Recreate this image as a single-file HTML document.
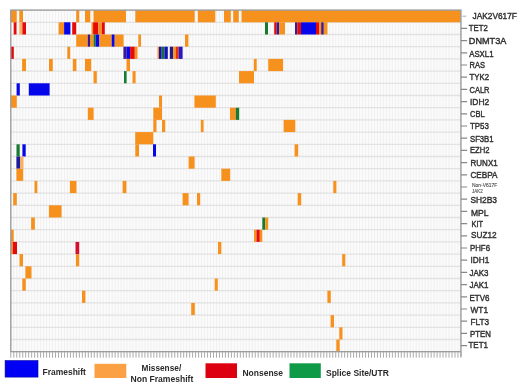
<!DOCTYPE html><html><head><meta charset="utf-8"><style>html,body{margin:0;padding:0;background:#fff;width:520px;height:390px;overflow:hidden}svg{display:block;filter:blur(0.5px)}text{font-family:"Liberation Sans",sans-serif}</style></head><body>
<svg width="520" height="390" viewBox="0 0 520 390">
<rect x="0" y="0" width="520" height="390" fill="#fff"/>
<rect x="10.8" y="10.1" width="450.13" height="341.60" fill="#fbfbfb"/>
<path d="M13.78 10.1V351.70M16.76 10.1V351.70M19.74 10.1V351.70M22.72 10.1V351.70M25.70 10.1V351.70M28.69 10.1V351.70M31.67 10.1V351.70M34.65 10.1V351.70M37.63 10.1V351.70M40.61 10.1V351.70M43.59 10.1V351.70M46.57 10.1V351.70M49.55 10.1V351.70M52.53 10.1V351.70M55.52 10.1V351.70M58.50 10.1V351.70M61.48 10.1V351.70M64.46 10.1V351.70M67.44 10.1V351.70M70.42 10.1V351.70M73.40 10.1V351.70M76.38 10.1V351.70M79.36 10.1V351.70M82.34 10.1V351.70M85.32 10.1V351.70M88.31 10.1V351.70M91.29 10.1V351.70M94.27 10.1V351.70M97.25 10.1V351.70M100.23 10.1V351.70M103.21 10.1V351.70M106.19 10.1V351.70M109.17 10.1V351.70M112.15 10.1V351.70M115.13 10.1V351.70M118.12 10.1V351.70M121.10 10.1V351.70M124.08 10.1V351.70M127.06 10.1V351.70M130.04 10.1V351.70M133.02 10.1V351.70M136.00 10.1V351.70M138.98 10.1V351.70M141.96 10.1V351.70M144.94 10.1V351.70M147.93 10.1V351.70M150.91 10.1V351.70M153.89 10.1V351.70M156.87 10.1V351.70M159.85 10.1V351.70M162.83 10.1V351.70M165.81 10.1V351.70M168.79 10.1V351.70M171.77 10.1V351.70M174.75 10.1V351.70M177.74 10.1V351.70M180.72 10.1V351.70M183.70 10.1V351.70M186.68 10.1V351.70M189.66 10.1V351.70M192.64 10.1V351.70M195.62 10.1V351.70M198.60 10.1V351.70M201.58 10.1V351.70M204.56 10.1V351.70M207.55 10.1V351.70M210.53 10.1V351.70M213.51 10.1V351.70M216.49 10.1V351.70M219.47 10.1V351.70M222.45 10.1V351.70M225.43 10.1V351.70M228.41 10.1V351.70M231.39 10.1V351.70M234.38 10.1V351.70M237.36 10.1V351.70M240.34 10.1V351.70M243.32 10.1V351.70M246.30 10.1V351.70M249.28 10.1V351.70M252.26 10.1V351.70M255.24 10.1V351.70M258.22 10.1V351.70M261.20 10.1V351.70M264.19 10.1V351.70M267.17 10.1V351.70M270.15 10.1V351.70M273.13 10.1V351.70M276.11 10.1V351.70M279.09 10.1V351.70M282.07 10.1V351.70M285.05 10.1V351.70M288.03 10.1V351.70M291.01 10.1V351.70M294.00 10.1V351.70M296.98 10.1V351.70M299.96 10.1V351.70M302.94 10.1V351.70M305.92 10.1V351.70M308.90 10.1V351.70M311.88 10.1V351.70M314.86 10.1V351.70M317.84 10.1V351.70M320.82 10.1V351.70M323.81 10.1V351.70M326.79 10.1V351.70M329.77 10.1V351.70M332.75 10.1V351.70M335.73 10.1V351.70M338.71 10.1V351.70M341.69 10.1V351.70M344.67 10.1V351.70M347.65 10.1V351.70M350.63 10.1V351.70M353.62 10.1V351.70M356.60 10.1V351.70M359.58 10.1V351.70M362.56 10.1V351.70M365.54 10.1V351.70M368.52 10.1V351.70M371.50 10.1V351.70M374.48 10.1V351.70M377.46 10.1V351.70M380.44 10.1V351.70M383.43 10.1V351.70M386.41 10.1V351.70M389.39 10.1V351.70M392.37 10.1V351.70M395.35 10.1V351.70M398.33 10.1V351.70M401.31 10.1V351.70M404.29 10.1V351.70M407.27 10.1V351.70M410.25 10.1V351.70M413.24 10.1V351.70M416.22 10.1V351.70M419.20 10.1V351.70M422.18 10.1V351.70M425.16 10.1V351.70M428.14 10.1V351.70M431.12 10.1V351.70M434.10 10.1V351.70M437.08 10.1V351.70M440.06 10.1V351.70M443.05 10.1V351.70M446.03 10.1V351.70M449.01 10.1V351.70M451.99 10.1V351.70M454.97 10.1V351.70M457.95 10.1V351.70" stroke="#eeeeee" stroke-width="0.8" fill="none"/>
<path d="M10.8 22.30H460.93M10.8 34.50H460.93M10.8 46.70H460.93M10.8 58.90H460.93M10.8 71.10H460.93M10.8 83.30H460.93M10.8 95.50H460.93M10.8 107.70H460.93M10.8 119.90H460.93M10.8 132.10H460.93M10.8 144.30H460.93M10.8 156.50H460.93M10.8 168.70H460.93M10.8 180.90H460.93M10.8 193.10H460.93M10.8 205.30H460.93M10.8 217.50H460.93M10.8 229.70H460.93M10.8 241.90H460.93M10.8 254.10H460.93M10.8 266.30H460.93M10.8 278.50H460.93M10.8 290.70H460.93M10.8 302.90H460.93M10.8 315.10H460.93M10.8 327.30H460.93M10.8 339.50H460.93" stroke="#e2e2e2" stroke-width="1.3" fill="none"/>
<rect x="10.50" y="10.10" width="6.20" height="12.20" fill="#f7911e"/>
<rect x="19.30" y="10.10" width="3.70" height="12.20" fill="#f7911e"/>
<rect x="76.20" y="10.10" width="3.00" height="12.20" fill="#f7911e"/>
<rect x="85.00" y="10.10" width="5.30" height="12.20" fill="#f7911e"/>
<rect x="93.50" y="10.10" width="32.50" height="12.20" fill="#f7911e"/>
<rect x="135.30" y="10.10" width="59.40" height="12.20" fill="#f7911e"/>
<rect x="197.80" y="10.10" width="17.50" height="12.20" fill="#f7911e"/>
<rect x="224.00" y="10.10" width="6.80" height="12.20" fill="#f7911e"/>
<rect x="233.20" y="10.10" width="5.60" height="12.20" fill="#f7911e"/>
<rect x="241.50" y="10.10" width="219.40" height="12.20" fill="#f7911e"/>
<rect x="13.70" y="22.30" width="2.80" height="12.20" fill="#e40a0a"/>
<rect x="19.30" y="22.30" width="3.10" height="12.20" fill="#f9b060"/>
<rect x="22.40" y="22.30" width="3.60" height="12.20" fill="#e40a0a"/>
<rect x="58.60" y="22.30" width="5.50" height="12.20" fill="#f7911e"/>
<rect x="64.10" y="22.30" width="6.30" height="12.20" fill="#0606ea"/>
<rect x="72.20" y="22.30" width="4.00" height="12.20" fill="#e40a0a"/>
<rect x="91.50" y="22.30" width="1.60" height="12.20" fill="#f7911e"/>
<rect x="93.10" y="22.30" width="5.20" height="12.20" fill="#e40a0a"/>
<rect x="98.30" y="22.30" width="3.50" height="12.20" fill="#f7911e"/>
<rect x="101.80" y="22.30" width="3.00" height="12.20" fill="#e40a0a"/>
<rect x="265.00" y="22.30" width="3.00" height="12.20" fill="#167a30"/>
<rect x="274.20" y="22.30" width="2.30" height="12.20" fill="#e40a0a"/>
<rect x="276.50" y="22.30" width="2.80" height="12.20" fill="#3a1890"/>
<rect x="279.30" y="22.30" width="5.70" height="12.20" fill="#f7911e"/>
<rect x="295.00" y="22.30" width="2.30" height="12.20" fill="#3a1890"/>
<rect x="297.30" y="22.30" width="3.70" height="12.20" fill="#e40a0a"/>
<rect x="301.00" y="22.30" width="15.00" height="12.20" fill="#0606ea"/>
<rect x="316.00" y="22.30" width="3.40" height="12.20" fill="#e40a0a"/>
<rect x="319.40" y="22.30" width="1.80" height="12.20" fill="#f7911e"/>
<rect x="321.20" y="22.30" width="2.60" height="12.20" fill="#3a1890"/>
<rect x="323.80" y="22.30" width="3.70" height="12.20" fill="#f7911e"/>
<rect x="76.20" y="34.50" width="11.60" height="12.20" fill="#f7911e"/>
<rect x="87.80" y="34.50" width="2.20" height="12.20" fill="#3a1890"/>
<rect x="90.00" y="34.50" width="3.60" height="12.20" fill="#f7911e"/>
<rect x="93.60" y="34.50" width="2.10" height="12.20" fill="#167a30"/>
<rect x="95.70" y="34.50" width="3.70" height="12.20" fill="#0606ea"/>
<rect x="99.40" y="34.50" width="12.30" height="12.20" fill="#f7911e"/>
<rect x="111.70" y="34.50" width="3.00" height="12.20" fill="#0606ea"/>
<rect x="114.70" y="34.50" width="8.90" height="12.20" fill="#f7911e"/>
<rect x="138.30" y="34.50" width="2.70" height="12.20" fill="#f7911e"/>
<rect x="185.00" y="34.50" width="3.40" height="12.20" fill="#f7911e"/>
<rect x="10.70" y="46.70" width="3.10" height="12.20" fill="#e40a0a"/>
<rect x="67.30" y="46.70" width="2.90" height="12.20" fill="#f7911e"/>
<rect x="123.40" y="46.70" width="3.30" height="12.20" fill="#3a1890"/>
<rect x="126.70" y="46.70" width="3.40" height="12.20" fill="#0606ea"/>
<rect x="130.10" y="46.70" width="4.70" height="12.20" fill="#e40a0a"/>
<rect x="134.80" y="46.70" width="2.70" height="12.20" fill="#f7911e"/>
<rect x="157.50" y="46.70" width="1.50" height="12.20" fill="#f7911e"/>
<rect x="159.00" y="46.70" width="2.70" height="12.20" fill="#1010b0"/>
<rect x="161.70" y="46.70" width="2.70" height="12.20" fill="#1a6a4a"/>
<rect x="164.40" y="46.70" width="3.40" height="12.20" fill="#1010b0"/>
<rect x="169.80" y="46.70" width="3.40" height="12.20" fill="#24188a"/>
<rect x="173.20" y="46.70" width="2.70" height="12.20" fill="#f7911e"/>
<rect x="175.90" y="46.70" width="2.70" height="12.20" fill="#e8300a"/>
<rect x="178.60" y="46.70" width="4.00" height="12.20" fill="#2a18b8"/>
<rect x="22.10" y="58.90" width="3.90" height="12.20" fill="#f7911e"/>
<rect x="49.00" y="58.90" width="3.80" height="12.20" fill="#f7911e"/>
<rect x="72.80" y="58.90" width="3.60" height="12.20" fill="#f7911e"/>
<rect x="85.00" y="58.90" width="6.20" height="12.20" fill="#f7911e"/>
<rect x="126.50" y="58.90" width="3.50" height="12.20" fill="#f7911e"/>
<rect x="253.80" y="58.90" width="2.90" height="12.20" fill="#f7911e"/>
<rect x="268.20" y="58.90" width="14.90" height="12.20" fill="#f7911e"/>
<rect x="93.50" y="71.10" width="3.30" height="12.20" fill="#f7911e"/>
<rect x="124.00" y="71.10" width="2.60" height="12.20" fill="#167a30"/>
<rect x="132.50" y="71.10" width="3.10" height="12.20" fill="#f7911e"/>
<rect x="239.00" y="71.10" width="15.00" height="12.20" fill="#f7911e"/>
<rect x="16.60" y="83.30" width="3.20" height="12.20" fill="#0606ea"/>
<rect x="28.80" y="83.30" width="20.80" height="12.20" fill="#0606ea"/>
<rect x="10.80" y="95.50" width="6.00" height="12.20" fill="#f7911e"/>
<rect x="159.00" y="95.50" width="3.00" height="12.20" fill="#f7911e"/>
<rect x="194.40" y="95.50" width="21.40" height="12.20" fill="#f7911e"/>
<rect x="87.80" y="107.70" width="5.80" height="12.20" fill="#f7911e"/>
<rect x="153.30" y="107.70" width="8.70" height="12.20" fill="#f7911e"/>
<rect x="230.00" y="107.70" width="5.80" height="12.20" fill="#f7911e"/>
<rect x="235.80" y="107.70" width="3.40" height="12.20" fill="#167a30"/>
<rect x="153.30" y="119.90" width="3.20" height="12.20" fill="#f7911e"/>
<rect x="162.00" y="119.90" width="3.20" height="12.20" fill="#f7911e"/>
<rect x="200.80" y="119.90" width="2.80" height="12.20" fill="#f7911e"/>
<rect x="283.60" y="119.90" width="11.70" height="12.20" fill="#f7911e"/>
<rect x="135.20" y="132.10" width="18.10" height="12.20" fill="#f7911e"/>
<rect x="16.50" y="144.30" width="3.20" height="12.20" fill="#167a30"/>
<rect x="22.40" y="144.30" width="3.30" height="12.20" fill="#0606ea"/>
<rect x="135.30" y="144.30" width="3.70" height="12.20" fill="#f7911e"/>
<rect x="153.00" y="144.30" width="3.00" height="12.20" fill="#0606ea"/>
<rect x="294.60" y="144.30" width="3.60" height="12.20" fill="#f7911e"/>
<rect x="16.40" y="156.50" width="3.80" height="12.20" fill="#1c1a9c"/>
<rect x="20.20" y="156.50" width="3.30" height="12.20" fill="#f9b060"/>
<rect x="188.60" y="156.50" width="6.00" height="12.20" fill="#f7911e"/>
<rect x="16.40" y="168.70" width="6.80" height="12.20" fill="#f7911e"/>
<rect x="221.30" y="168.70" width="8.90" height="12.20" fill="#f7911e"/>
<rect x="34.50" y="180.90" width="2.80" height="12.20" fill="#f7911e"/>
<rect x="69.90" y="180.90" width="6.60" height="12.20" fill="#f7911e"/>
<rect x="122.60" y="180.90" width="3.80" height="12.20" fill="#f7911e"/>
<rect x="333.30" y="180.90" width="3.10" height="12.20" fill="#f7911e"/>
<rect x="13.20" y="193.10" width="3.60" height="12.20" fill="#f7911e"/>
<rect x="182.60" y="193.10" width="6.00" height="12.20" fill="#f7911e"/>
<rect x="197.00" y="193.10" width="3.20" height="12.20" fill="#f7911e"/>
<rect x="297.70" y="193.10" width="3.50" height="12.20" fill="#f7911e"/>
<rect x="48.90" y="205.30" width="12.70" height="12.20" fill="#f7911e"/>
<rect x="31.10" y="217.50" width="3.80" height="12.20" fill="#f7911e"/>
<rect x="262.30" y="217.50" width="3.00" height="12.20" fill="#167a30"/>
<rect x="265.30" y="217.50" width="2.90" height="12.20" fill="#f7911e"/>
<rect x="10.70" y="229.70" width="3.00" height="12.20" fill="#f7911e"/>
<rect x="254.00" y="229.70" width="2.50" height="12.20" fill="#f7911e"/>
<rect x="256.50" y="229.70" width="3.30" height="12.20" fill="#e40a0a"/>
<rect x="259.80" y="229.70" width="2.50" height="12.20" fill="#f7911e"/>
<rect x="10.70" y="241.90" width="2.10" height="12.20" fill="#f7911e"/>
<rect x="12.80" y="241.90" width="4.20" height="12.20" fill="#e40a0a"/>
<rect x="75.50" y="241.90" width="3.70" height="12.20" fill="#d3102e"/>
<rect x="218.00" y="241.90" width="3.30" height="12.20" fill="#f7911e"/>
<rect x="19.50" y="254.10" width="3.50" height="12.20" fill="#f7911e"/>
<rect x="75.90" y="254.10" width="3.30" height="12.20" fill="#f7911e"/>
<rect x="342.20" y="254.10" width="3.10" height="12.20" fill="#f7911e"/>
<rect x="25.40" y="266.30" width="6.10" height="12.20" fill="#f7911e"/>
<rect x="22.30" y="278.50" width="3.50" height="12.20" fill="#f7911e"/>
<rect x="214.70" y="278.50" width="3.10" height="12.20" fill="#f7911e"/>
<rect x="82.00" y="290.70" width="3.40" height="12.20" fill="#f7911e"/>
<rect x="327.40" y="290.70" width="3.40" height="12.20" fill="#f7911e"/>
<rect x="191.20" y="302.90" width="3.60" height="12.20" fill="#f7911e"/>
<rect x="330.60" y="315.10" width="3.40" height="12.20" fill="#f7911e"/>
<rect x="339.30" y="327.30" width="3.20" height="12.20" fill="#f7911e"/>
<rect x="336.30" y="339.50" width="3.40" height="12.20" fill="#f7911e"/>
<rect x="10.8" y="10.1" width="450.13" height="341.60" fill="none" stroke="#9c9c9c" stroke-width="1.4"/>
<path d="M460.93 351.70v5" stroke="#9c9c9c" stroke-width="1.4" fill="none"/>
<path d="M10.80 352.20v5.5M13.78 352.20v5.5M16.76 352.20v5.5M19.74 352.20v5.5M22.72 352.20v5.5M25.70 352.20v5.5M28.69 352.20v5.5M31.67 352.20v5.5M34.65 352.20v5.5M37.63 352.20v5.5M40.61 352.20v5.5M43.59 352.20v5.5M46.57 352.20v5.5M49.55 352.20v5.5M52.53 352.20v5.5M55.52 352.20v5.5M58.50 352.20v5.5M61.48 352.20v5.5M64.46 352.20v5.5M67.44 352.20v5.5M70.42 352.20v5.5M73.40 352.20v5.5M76.38 352.20v5.5M79.36 352.20v5.5M82.34 352.20v5.5M85.32 352.20v5.5M88.31 352.20v5.5M91.29 352.20v5.5M94.27 352.20v5.5M97.25 352.20v5.5M100.23 352.20v5.5M103.21 352.20v5.5M106.19 352.20v5.5M109.17 352.20v5.5M112.15 352.20v5.5M115.13 352.20v5.5M118.12 352.20v5.5M121.10 352.20v5.5M124.08 352.20v5.5M127.06 352.20v5.5M130.04 352.20v5.5M133.02 352.20v5.5M136.00 352.20v5.5M138.98 352.20v5.5M141.96 352.20v5.5M144.94 352.20v5.5M147.93 352.20v5.5M150.91 352.20v5.5M153.89 352.20v5.5M156.87 352.20v5.5M159.85 352.20v5.5M162.83 352.20v5.5M165.81 352.20v5.5M168.79 352.20v5.5M171.77 352.20v5.5M174.75 352.20v5.5M177.74 352.20v5.5M180.72 352.20v5.5M183.70 352.20v5.5M186.68 352.20v5.5M189.66 352.20v5.5M192.64 352.20v5.5M195.62 352.20v5.5M198.60 352.20v5.5M201.58 352.20v5.5M204.56 352.20v5.5M207.55 352.20v5.5M210.53 352.20v5.5M213.51 352.20v5.5M216.49 352.20v5.5M219.47 352.20v5.5M222.45 352.20v5.5M225.43 352.20v5.5M228.41 352.20v5.5M231.39 352.20v5.5M234.38 352.20v5.5M237.36 352.20v5.5M240.34 352.20v5.5M243.32 352.20v5.5M246.30 352.20v5.5M249.28 352.20v5.5M252.26 352.20v5.5M255.24 352.20v5.5M258.22 352.20v5.5M261.20 352.20v5.5M264.19 352.20v5.5M267.17 352.20v5.5M270.15 352.20v5.5M273.13 352.20v5.5M276.11 352.20v5.5M279.09 352.20v5.5M282.07 352.20v5.5M285.05 352.20v5.5M288.03 352.20v5.5M291.01 352.20v5.5M294.00 352.20v5.5M296.98 352.20v5.5M299.96 352.20v5.5M302.94 352.20v5.5M305.92 352.20v5.5M308.90 352.20v5.5M311.88 352.20v5.5M314.86 352.20v5.5M317.84 352.20v5.5M320.82 352.20v5.5M323.81 352.20v5.5M326.79 352.20v5.5M329.77 352.20v5.5M332.75 352.20v5.5M335.73 352.20v5.5M338.71 352.20v5.5M341.69 352.20v5.5M344.67 352.20v5.5M347.65 352.20v5.5M350.63 352.20v5.5M353.62 352.20v5.5M356.60 352.20v5.5M359.58 352.20v5.5M362.56 352.20v5.5M365.54 352.20v5.5M368.52 352.20v5.5M371.50 352.20v5.5M374.48 352.20v5.5M377.46 352.20v5.5M380.44 352.20v5.5M383.43 352.20v5.5M386.41 352.20v5.5M389.39 352.20v5.5M392.37 352.20v5.5M395.35 352.20v5.5M398.33 352.20v5.5M401.31 352.20v5.5M404.29 352.20v5.5M407.27 352.20v5.5M410.25 352.20v5.5M413.24 352.20v5.5M416.22 352.20v5.5M419.20 352.20v5.5M422.18 352.20v5.5M425.16 352.20v5.5M428.14 352.20v5.5M431.12 352.20v5.5M434.10 352.20v5.5M437.08 352.20v5.5M440.06 352.20v5.5M443.05 352.20v5.5M446.03 352.20v5.5M449.01 352.20v5.5M451.99 352.20v5.5M454.97 352.20v5.5M457.95 352.20v5.5M460.93 352.20v5.5" stroke="#aaaaaa" stroke-width="1.0" fill="none"/>
<path d="M460.93 28.40h6.2M460.93 40.60h6.2M460.93 52.80h6.2M460.93 65.00h6.2M460.93 77.20h6.2M460.93 89.40h6.2M460.93 101.60h6.2M460.93 113.80h6.2M460.93 126.00h6.2M460.93 138.20h6.2M460.93 150.40h6.2M460.93 162.60h6.2M460.93 174.80h6.2M460.93 187.00h6.2M460.93 199.20h6.2M460.93 211.40h6.2M460.93 223.60h6.2M460.93 235.80h6.2M460.93 248.00h6.2M460.93 260.20h6.2M460.93 272.40h6.2M460.93 284.60h6.2M460.93 296.80h6.2M460.93 309.00h6.2M460.93 321.20h6.2M460.93 333.40h6.2M460.93 345.60h6.2" stroke="#888" stroke-width="1.2" fill="none"/>
<path d="M462.3 16.20h4" stroke="#a9b6c4" stroke-width="1.1" fill="none"/>
<text x="472.5" y="19.30" font-size="9.8" font-weight="normal" fill="#333" stroke="#333" stroke-width="0.45" textLength="44.4" lengthAdjust="spacingAndGlyphs">JAK2V617F</text>
<text x="468.8" y="30.85" font-size="9.8" font-weight="normal" fill="#333" stroke="#333" stroke-width="0.45" textLength="19" lengthAdjust="spacingAndGlyphs">TET2</text>
<text x="468.8" y="43.50" font-size="9.8" font-weight="normal" fill="#333" stroke="#333" stroke-width="0.45" textLength="37.5" lengthAdjust="spacingAndGlyphs">DNMT3A</text>
<text x="469.2" y="56.50" font-size="9.8" font-weight="normal" fill="#333" stroke="#333" stroke-width="0.45" textLength="24.3" lengthAdjust="spacingAndGlyphs">ASXL1</text>
<text x="469.5" y="67.50" font-size="9.8" font-weight="normal" fill="#333" stroke="#333" stroke-width="0.45" textLength="15.5" lengthAdjust="spacingAndGlyphs">RAS</text>
<text x="469.5" y="80.30" font-size="9.8" font-weight="normal" fill="#333" stroke="#333" stroke-width="0.45" textLength="19.5" lengthAdjust="spacingAndGlyphs">TYK2</text>
<text x="469.5" y="92.80" font-size="9.8" font-weight="normal" fill="#333" stroke="#333" stroke-width="0.45" textLength="20" lengthAdjust="spacingAndGlyphs">CALR</text>
<text x="470" y="104.65" font-size="9.8" font-weight="normal" fill="#333" stroke="#333" stroke-width="0.45" textLength="19.2" lengthAdjust="spacingAndGlyphs">IDH2</text>
<text x="470" y="117.40" font-size="9.8" font-weight="normal" fill="#333" stroke="#333" stroke-width="0.45" textLength="14.6" lengthAdjust="spacingAndGlyphs">CBL</text>
<text x="470" y="129.00" font-size="9.8" font-weight="normal" fill="#333" stroke="#333" stroke-width="0.45" textLength="18.9" lengthAdjust="spacingAndGlyphs">TP53</text>
<text x="470" y="141.50" font-size="9.8" font-weight="normal" fill="#333" stroke="#333" stroke-width="0.45" textLength="23.5" lengthAdjust="spacingAndGlyphs">SF3B1</text>
<text x="470" y="153.25" font-size="9.8" font-weight="normal" fill="#333" stroke="#333" stroke-width="0.45" textLength="19.5" lengthAdjust="spacingAndGlyphs">EZH2</text>
<text x="470.5" y="165.55" font-size="9.8" font-weight="normal" fill="#333" stroke="#333" stroke-width="0.45" textLength="27.2" lengthAdjust="spacingAndGlyphs">RUNX1</text>
<text x="470.5" y="178.15" font-size="9.8" font-weight="normal" fill="#333" stroke="#333" stroke-width="0.45" textLength="26.9" lengthAdjust="spacingAndGlyphs">CEBPA</text>
<text x="470.5" y="202.90" font-size="9.8" font-weight="normal" fill="#333" stroke="#333" stroke-width="0.45" textLength="26.5" lengthAdjust="spacingAndGlyphs">SH2B3</text>
<text x="471" y="215.70" font-size="9.8" font-weight="normal" fill="#333" stroke="#333" stroke-width="0.45" textLength="17.5" lengthAdjust="spacingAndGlyphs">MPL</text>
<text x="471.5" y="226.50" font-size="9.8" font-weight="normal" fill="#333" stroke="#333" stroke-width="0.45" textLength="11.5" lengthAdjust="spacingAndGlyphs">KIT</text>
<text x="471" y="238.40" font-size="9.8" font-weight="normal" fill="#333" stroke="#333" stroke-width="0.45" textLength="25.6" lengthAdjust="spacingAndGlyphs">SUZ12</text>
<text x="470" y="251.15" font-size="9.8" font-weight="normal" fill="#333" stroke="#333" stroke-width="0.45" textLength="20" lengthAdjust="spacingAndGlyphs">PHF6</text>
<text x="470.5" y="263.25" font-size="9.8" font-weight="normal" fill="#333" stroke="#333" stroke-width="0.45" textLength="18.7" lengthAdjust="spacingAndGlyphs">IDH1</text>
<text x="469.5" y="276.00" font-size="9.8" font-weight="normal" fill="#333" stroke="#333" stroke-width="0.45" textLength="19" lengthAdjust="spacingAndGlyphs">JAK3</text>
<text x="469.5" y="288.00" font-size="9.8" font-weight="normal" fill="#333" stroke="#333" stroke-width="0.45" textLength="19" lengthAdjust="spacingAndGlyphs">JAK1</text>
<text x="469.5" y="300.65" font-size="9.8" font-weight="normal" fill="#333" stroke="#333" stroke-width="0.45" textLength="20" lengthAdjust="spacingAndGlyphs">ETV6</text>
<text x="470.5" y="312.65" font-size="9.8" font-weight="normal" fill="#333" stroke="#333" stroke-width="0.45" textLength="17.5" lengthAdjust="spacingAndGlyphs">WT1</text>
<text x="470.5" y="325.15" font-size="9.8" font-weight="normal" fill="#333" stroke="#333" stroke-width="0.45" textLength="18.5" lengthAdjust="spacingAndGlyphs">FLT3</text>
<text x="470" y="337.10" font-size="9.8" font-weight="normal" fill="#333" stroke="#333" stroke-width="0.45" textLength="20.8" lengthAdjust="spacingAndGlyphs">PTEN</text>
<text x="468.5" y="348.40" font-size="9.8" font-weight="normal" fill="#333" stroke="#333" stroke-width="0.45" textLength="19.5" lengthAdjust="spacingAndGlyphs">TET1</text>
<text x="472" y="187.1" font-size="5.2" fill="#555" stroke="#555" stroke-width="0.15" textLength="25.2" lengthAdjust="spacingAndGlyphs">Non-V617F</text>
<text x="472" y="193.3" font-size="5.2" fill="#555" stroke="#555" stroke-width="0.15" textLength="10.6" lengthAdjust="spacingAndGlyphs">JAK2</text>
<rect x="5.1" y="360.6" width="32.9" height="16.5" fill="#0000f5" stroke="#0000a0" stroke-width="0.6"/>
<text x="42.5" y="374.6" font-size="9.8" font-weight="bold" fill="#2a2a2a" textLength="43.3" lengthAdjust="spacingAndGlyphs">Frameshift</text>
<rect x="94.5" y="363.8" width="31.8" height="14.2" fill="#fba144"/>
<text x="141.6" y="370.9" font-size="9.8" font-weight="bold" fill="#2a2a2a" textLength="39.6" lengthAdjust="spacingAndGlyphs">Missense/</text>
<text x="130.5" y="382.1" font-size="9.8" font-weight="bold" fill="#2a2a2a" textLength="62.8" lengthAdjust="spacingAndGlyphs">Non Frameshift</text>
<rect x="205.5" y="363.3" width="31.5" height="14.7" fill="#dd0010"/>
<text x="242.5" y="376.3" font-size="9.8" font-weight="bold" fill="#2a2a2a" textLength="40.5" lengthAdjust="spacingAndGlyphs">Nonsense</text>
<rect x="289.5" y="363.3" width="31.3" height="14.7" fill="#0f9a48"/>
<text x="326" y="376.3" font-size="9.8" font-weight="bold" fill="#2a2a2a" textLength="62.8" lengthAdjust="spacingAndGlyphs">Splice Site/UTR</text>
</svg></body></html>
